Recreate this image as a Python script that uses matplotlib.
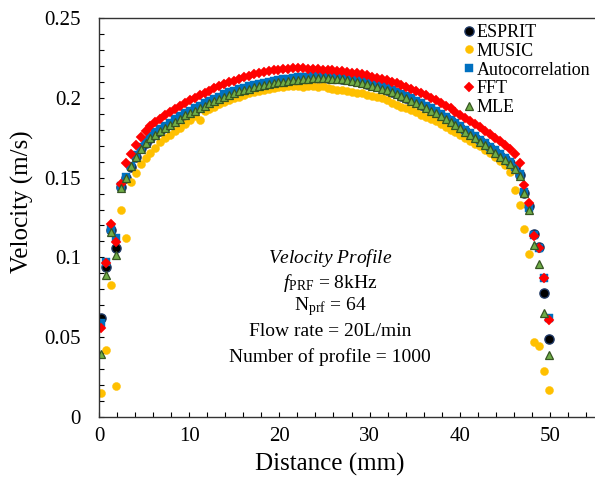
import matplotlib
matplotlib.use("Agg")
import matplotlib.pyplot as plt
from matplotlib.ticker import MultipleLocator, FuncFormatter

plt.rcParams['font.family'] = ['Liberation Serif', 'DejaVu Serif']
plt.rcParams['mathtext.fontset'] = 'custom'
plt.rcParams['mathtext.rm'] = 'Liberation Serif'
plt.rcParams['mathtext.it'] = 'Liberation Serif:italic'

# ---- data ----
distance = [0.25, 0.80, 1.34, 1.89, 2.43, 2.98, 3.52, 4.07, 4.61, 5.16,
            5.71, 6.25, 6.80, 7.34, 7.89, 8.43, 8.98, 9.53, 10.07, 10.62,
            11.16, 11.71, 12.25, 12.80, 13.34, 13.89, 14.44, 14.98, 15.53, 16.07,
            16.62, 17.16, 17.71, 18.25, 18.80, 19.35, 19.89, 20.44, 20.98, 21.53,
            22.07, 22.62, 23.17, 23.71, 24.26, 24.80, 25.35, 25.89, 26.44, 26.98,
            27.53, 28.08, 28.62, 29.17, 29.71, 30.26, 30.80, 31.35, 31.89, 32.44,
            32.99, 33.53, 34.08, 34.62, 35.17, 35.71, 36.26, 36.81, 37.35, 37.90,
            38.44, 38.99, 39.53, 40.08, 40.62, 41.17, 41.72, 42.26, 42.81, 43.35,
            43.90, 44.45, 44.99, 45.54, 46.08, 46.63, 47.17, 47.72, 48.26, 48.81,
            49.35, 49.90]

esprit = [0.0622, 0.094, 0.117, 0.106, 0.144, 0.1495, 0.1568, 0.1632, 0.1683, 0.1718,
          0.1748, 0.1773, 0.1794, 0.1814, 0.1834, 0.1854, 0.1873, 0.1892, 0.1909, 0.1924,
          0.194, 0.1954, 0.1969, 0.1984, 0.1999, 0.2012, 0.2024, 0.2035, 0.2045, 0.2054,
          0.2063, 0.2071, 0.2078, 0.2085, 0.2091, 0.2097, 0.2102, 0.2107, 0.2111, 0.2115,
          0.2118, 0.2121, 0.2123, 0.2125, 0.2126, 0.2126, 0.2126, 0.2124, 0.2122, 0.2119,
          0.2115, 0.211, 0.2104, 0.2097, 0.2089, 0.208, 0.2071, 0.2061, 0.205, 0.2039,
          0.2027, 0.2014, 0.2001, 0.1987, 0.1972, 0.1957, 0.1941, 0.1924, 0.1907, 0.1889,
          0.1871, 0.1852, 0.1832, 0.1812, 0.1791, 0.177, 0.1749, 0.1728, 0.1706, 0.1684,
          0.1661, 0.1638, 0.1615, 0.1591, 0.156, 0.1518, 0.1405, 0.132, 0.1145, 0.1067,
          0.078, 0.0487]

music = [0.015, 0.042, 0.083, 0.0194, 0.130, 0.112, 0.147, 0.153, 0.1585, 0.1625,
         0.1655, 0.1685, 0.172, 0.1745, 0.1765, 0.179, 0.1812, 0.1835, 0.1858, 0.1885,
         0.186, 0.1915, 0.193, 0.1945, 0.1962, 0.1975, 0.1988, 0.1998, 0.2008, 0.2018,
         0.2027, 0.2036, 0.2045, 0.2052, 0.2058, 0.2063, 0.2068, 0.207, 0.2073, 0.2074,
         0.2072, 0.2066, 0.2072, 0.2075, 0.2068, 0.2072, 0.2064, 0.2058, 0.2052, 0.2046,
         0.204, 0.2035, 0.2032, 0.2028, 0.2018, 0.2012, 0.2005, 0.1996, 0.1984, 0.1968,
         0.1955, 0.1944, 0.1935, 0.1924, 0.1908, 0.1893, 0.188, 0.1868, 0.1852, 0.1835,
         0.1818, 0.180, 0.1786, 0.177, 0.1748, 0.1728, 0.1712, 0.1695, 0.1672, 0.1652,
         0.1628, 0.1605, 0.1578, 0.1535, 0.142, 0.133, 0.118, 0.102, 0.047, 0.0445,
         0.029, 0.017]

autocorr = [0.059, 0.0973, 0.118, 0.112, 0.1445, 0.1505, 0.1575, 0.164, 0.169, 0.1728,
            0.1758, 0.1783, 0.1803, 0.1825, 0.1845, 0.1865, 0.1884, 0.1902, 0.192, 0.1935,
            0.195, 0.1965, 0.1979, 0.1993, 0.2008, 0.2021, 0.2034, 0.2044, 0.2055, 0.2064,
            0.2073, 0.208, 0.2088, 0.2094, 0.21, 0.2106, 0.2111, 0.2116, 0.212, 0.2125,
            0.2128, 0.213, 0.2133, 0.2134, 0.2136, 0.2136, 0.2135, 0.2134, 0.2132, 0.2128,
            0.2125, 0.212, 0.2114, 0.2107, 0.2099, 0.209, 0.2081, 0.2071, 0.206, 0.2049,
            0.2037, 0.2024, 0.2011, 0.1997, 0.1982, 0.1967, 0.1951, 0.1934, 0.1917, 0.1899,
            0.1881, 0.1862, 0.1842, 0.1822, 0.1801, 0.178, 0.1759, 0.1738, 0.1716, 0.1694,
            0.167, 0.1647, 0.1624, 0.16, 0.1568, 0.1525, 0.141, 0.131, 0.114, 0.106,
            0.0873, 0.062]

fft = [0.0558, 0.0965, 0.121, 0.1097, 0.146, 0.159, 0.165, 0.1705, 0.1755, 0.1795,
       0.1825, 0.185, 0.187, 0.189, 0.1912, 0.193, 0.195, 0.197, 0.1985, 0.2,
       0.2015, 0.203, 0.2045, 0.206, 0.2074, 0.2088, 0.2098, 0.2108, 0.2118, 0.2128,
       0.2138, 0.2148, 0.2158, 0.2164, 0.2168, 0.2173, 0.2176, 0.2178, 0.2182, 0.2185,
       0.2184, 0.2186, 0.2181, 0.2183, 0.2178, 0.2176, 0.2175, 0.2172, 0.2168, 0.2166,
       0.2163, 0.2158, 0.2153, 0.2147, 0.2141, 0.2133, 0.2126, 0.2118, 0.2109, 0.21,
       0.209, 0.2079, 0.2067, 0.2055, 0.2042, 0.2029, 0.2015, 0.2, 0.1985, 0.1968,
       0.1951, 0.1933, 0.1914, 0.1895, 0.1875, 0.1856, 0.1836, 0.1815, 0.1795, 0.1773,
       0.175, 0.1727, 0.1703, 0.1678, 0.1648, 0.159, 0.1455, 0.134, 0.1134, 0.1057,
       0.0873, 0.0608]

mle = [0.0395, 0.089, 0.116, 0.1015, 0.1435, 0.1495, 0.157, 0.163, 0.168, 0.1715,
       0.1745, 0.177, 0.179, 0.181, 0.183, 0.185, 0.187, 0.189, 0.1905, 0.192,
       0.1935, 0.195, 0.1965, 0.198, 0.1995, 0.2008, 0.202, 0.203, 0.204, 0.205,
       0.2058, 0.2066, 0.2073, 0.208, 0.2086, 0.2092, 0.2097, 0.2102, 0.2107, 0.2111,
       0.2114, 0.2117, 0.2119, 0.2121, 0.2122, 0.2123, 0.2122, 0.212, 0.2118, 0.2115,
       0.2111, 0.2106, 0.21, 0.2093, 0.2085, 0.2076, 0.2067, 0.2057, 0.2046, 0.2035,
       0.2023, 0.201, 0.1997, 0.1983, 0.1968, 0.1953, 0.1937, 0.192, 0.1903, 0.1885,
       0.1867, 0.1848, 0.1828, 0.1808, 0.1787, 0.1765, 0.1745, 0.1724, 0.1702, 0.168,
       0.1655, 0.1632, 0.161, 0.1585, 0.1555, 0.151, 0.1405, 0.1297, 0.1078, 0.0959,
       0.065, 0.0389]

info_lines = [r"$\it{Velocity\ Profile}$",
              r"$f_{\mathrm{PRF}}$ = 8kHz",
              r"N$_{\mathrm{prf}}$ = 64",
              "Flow rate = 20L/min",
              "Number of profile = 1000"]

# ---- figure ----
fig = plt.figure(figsize=(5.95, 4.96), dpi=100)
ax = fig.add_axes([99 / 595, 1 - 417 / 496, 1 - 99 / 595, (417 - 18) / 496])

ax.plot(distance, esprit, 'o', ms=6.6, mfc='black', mec='#1F3864', mew=1.0, label='ESPRIT')
ax.plot(distance, music, 'o', ms=5.8, mfc='#FFC000', mec='#FFC000', mew=0.3, label='MUSIC')
ax.plot(distance, autocorr, 's', ms=5.6, mfc='#0070C0', mec='#0070C0', mew=0.3, label='Autocorrelation')
ax.plot(distance, fft, 'D', ms=5.0, mfc='#FF0000', mec='#FF0000', mew=0.3, label='FFT')
ax.plot(distance, mle, '^', ms=6.3, mfc='#70AD47', mec='#375623', mew=0.9, label='MLE')

ax.set_xlim(0, 55)
ax.set_ylim(0, 0.25)
ax.xaxis.set_major_locator(MultipleLocator(10))
ax.xaxis.set_minor_locator(MultipleLocator(2))
ax.yaxis.set_major_locator(MultipleLocator(0.05))
ax.yaxis.set_minor_locator(MultipleLocator(0.01))
ax.yaxis.set_major_formatter(FuncFormatter(lambda v, p: '%g' % round(v, 3)))

ax.tick_params(which='both', direction='in', length=3.6, width=0.8, colors='black',
               labelsize=15, top=False, right=False)
ax.tick_params(axis='y', pad=13)
ax.tick_params(axis='x', pad=7)

for side in ['left', 'bottom', 'top']:
    ax.spines[side].set_linewidth(1.0)
    ax.spines[side].set_color('#333333')
ax.spines['right'].set_visible(False)

fig.text(22 / 595, 1 - 202 / 496, 'Velocity (m/s)', rotation=90, fontsize=18,
         ha='center', va='center')
fig.text(330 / 595, 1 - 464 / 496, 'Distance (mm)', fontsize=18, ha='center', va='center')

line_y = [258, 283, 307, 332, 357]
for txt, yy in zip(info_lines, line_y):
    fig.text(330 / 595, 1 - yy / 496, txt, fontsize=14, ha='center', va='center')

leg = ax.legend(loc='upper left', bbox_to_anchor=(465 / 595, 1 - 24 / 496),
                bbox_transform=fig.transFigure, frameon=False, fontsize=13,
                numpoints=1, handlelength=0.4, handletextpad=0.25, labelspacing=0.1,
                borderpad=0, borderaxespad=0)

fig.savefig('out.png', dpi=100)
